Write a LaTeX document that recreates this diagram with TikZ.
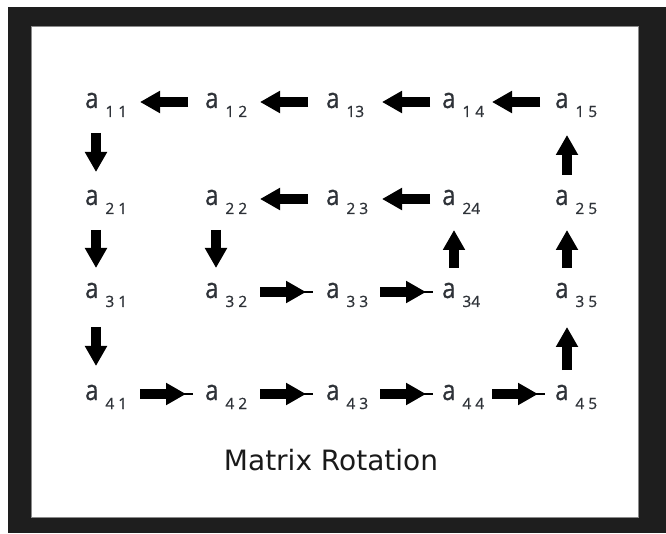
\documentclass[tikz,border=0pt]{standalone}
\usepackage{graphicx}
\usepackage{fontspec}
\setmainfont[FakeBold=0.7]{Open Sans}
\newfontfamily\titlefont{DejaVu Sans}
\usetikzlibrary{arrows.meta}

\definecolor{framedark}{HTML}{1E1E1E}
\definecolor{panelline}{HTML}{8A8A8A}
\definecolor{ink}{HTML}{2E3238}
\definecolor{titleink}{HTML}{1A1A1A}

% matrix entry: a narrow "a" followed by a lowered two-digit index
\newcommand{\entrytxt}[1]{\scalebox{0.85}[1]{a}\hspace{7pt}\raisebox{-9pt}{\fontsize{15.5}{15.5}\selectfont #1}}
\newcommand{\idxgap}{\hspace{4pt}}

\tikzset{
  entry/.style={anchor=base west, inner sep=0pt, text=ink,
                font=\fontsize{28}{28}\selectfont},
  blk/.style={draw=black, line width=10pt, line cap=butt,
              -{Triangle[length=20pt,width=21pt]}},
  tipline/.style={draw=black, line width=2pt},
}

\begin{document}
\begin{tikzpicture}[x=1pt, y=1pt]
  \useasboundingbox (0,0) rectangle (666,533);
  % frame and white panel
  \fill[white] (0,0) rectangle (666,533);
  \fill[framedark] (8,0) rectangle (666,526);
  \filldraw[fill=white, draw=panelline, line width=1pt] (31,16) rectangle (638,506);

  % row 1
  \node[entry] (a11) at (85,425)  {\entrytxt{1\idxgap1}};
  \node[entry] (a12) at (205,425) {\entrytxt{1\idxgap2}};
  \node[entry] (a13) at (326,425) {\entrytxt{13}};
  \node[entry] (a14) at (442,425) {\entrytxt{1\idxgap4}};
  \node[entry] (a15) at (555,425) {\entrytxt{1\idxgap5}};
  % row 2
  \node[entry] (a21) at (85,328)  {\entrytxt{2\idxgap1}};
  \node[entry] (a22) at (205,328) {\entrytxt{2\idxgap2}};
  \node[entry] (a23) at (326,328) {\entrytxt{2\idxgap3}};
  \node[entry] (a24) at (442,328) {\entrytxt{24}};
  \node[entry] (a25) at (555,328) {\entrytxt{2\idxgap5}};
  % row 3
  \node[entry] (a31) at (85,235)  {\entrytxt{3\idxgap1}};
  \node[entry] (a32) at (205,235) {\entrytxt{3\idxgap2}};
  \node[entry] (a33) at (326,235) {\entrytxt{3\idxgap3}};
  \node[entry] (a34) at (442,235) {\entrytxt{34}};
  \node[entry] (a35) at (555,235) {\entrytxt{3\idxgap5}};
  % row 4
  \node[entry] (a41) at (85,133)  {\entrytxt{4\idxgap1}};
  \node[entry] (a42) at (205,133) {\entrytxt{4\idxgap2}};
  \node[entry] (a43) at (326,133) {\entrytxt{4\idxgap3}};
  \node[entry] (a44) at (442,133) {\entrytxt{4\idxgap4}};
  \node[entry] (a45) at (555,133) {\entrytxt{4\idxgap5}};

  % title
  \node[anchor=base, inner sep=0pt, text=titleink,
        font=\titlefont\fontsize{28}{28}\selectfont] (title) at (331,63) {Matrix Rotation};

  % top row, leftwards
  \draw[blk] ([shift={(-17,6)}]a12.base west) -- ([shift={(55,6)}]a11.base west);
  \draw[blk] ([shift={(-18,6)}]a13.base west) -- ([shift={(55,6)}]a12.base west);
  \draw[blk] ([shift={(-12,6)}]a14.base west) -- ([shift={(56,6)}]a13.base west);
  \draw[blk] ([shift={(-15,6)}]a15.base west) -- ([shift={(50,6)}]a14.base west);

  % second row, leftwards
  \draw[blk] ([shift={(-18,6)}]a23.base west) -- ([shift={(55,6)}]a22.base west);
  \draw[blk] ([shift={(-12,6)}]a24.base west) -- ([shift={(56,6)}]a23.base west);

  % third row, rightwards
  \draw[tipline] ([shift={(55,6)}]a32.base west) -- ([shift={(-13,6)}]a33.base west);
  \draw[blk] ([shift={(55,6)}]a32.base west) -- ([shift={(-20,6)}]a33.base west);
  \draw[tipline] ([shift={(54,6)}]a33.base west) -- ([shift={(-9,6)}]a34.base west);
  \draw[blk] ([shift={(54,6)}]a33.base west) -- ([shift={(-16,6)}]a34.base west);

  % bottom row, rightwards
  \draw[tipline] ([shift={(55,6)}]a41.base west) -- ([shift={(-12,6)}]a42.base west);
  \draw[blk] ([shift={(55,6)}]a41.base west) -- ([shift={(-19,6)}]a42.base west);
  \draw[tipline] ([shift={(55,6)}]a42.base west) -- ([shift={(-13,6)}]a43.base west);
  \draw[blk] ([shift={(55,6)}]a42.base west) -- ([shift={(-20,6)}]a43.base west);
  \draw[tipline] ([shift={(54,6)}]a43.base west) -- ([shift={(-9,6)}]a44.base west);
  \draw[blk] ([shift={(54,6)}]a43.base west) -- ([shift={(-16,6)}]a44.base west);
  \draw[tipline] ([shift={(50,6)}]a44.base west) -- ([shift={(-10,6)}]a45.base west);
  \draw[blk] ([shift={(50,6)}]a44.base west) -- ([shift={(-17,6)}]a45.base west);

  % first column, downwards
  \draw[blk] ([shift={(11,-25)}]a11.base west) -- ([shift={(11,33)}]a21.base west);
  \draw[blk] ([shift={(11,-25)}]a21.base west) -- ([shift={(11,30)}]a31.base west);
  \draw[blk] ([shift={(11,-29)}]a31.base west) -- ([shift={(11,34)}]a41.base west);

  % second column, downwards
  \draw[blk] ([shift={(11,-25)}]a22.base west) -- ([shift={(11,30)}]a32.base west);

  % fourth column, upwards
  \draw[blk] ([shift={(12,30)}]a34.base west) -- ([shift={(12,-25)}]a24.base west);

  % last column, upwards
  \draw[blk] ([shift={(12,30)}]a25.base west) -- ([shift={(12,-27)}]a15.base west);
  \draw[blk] ([shift={(12,30)}]a35.base west) -- ([shift={(12,-25)}]a25.base west);
  \draw[blk] ([shift={(12,30)}]a45.base west) -- ([shift={(12,-29)}]a35.base west);
\end{tikzpicture}
\end{document}
